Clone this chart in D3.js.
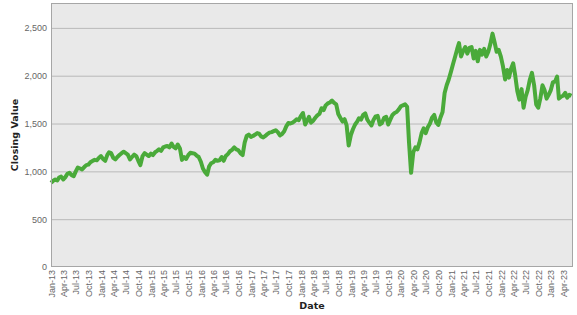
<!DOCTYPE html>
<html>
<head>
<meta charset="utf-8">
<script src="https://cdn.jsdelivr.net/npm/d3@7"></script>
<style>
  body { margin: 0; background: #fff; }
  svg { display: block; font-family: "DejaVu Sans", Verdana, sans-serif; }
</style>
</head>
<body>
<div id="chart"></div>
<script>
// half-monthly closes (1st and 16th of each month), Jan-13 .. Jun-23
var startMonth = "2013-01";
var closes = [
  // 2013
  880, 900, 915, 905, 935, 945, 915, 940, 975, 985, 960, 950,
  1000, 1040, 1030, 1020, 1045, 1065, 1070, 1095, 1110, 1120, 1115, 1140,
  // 2014
  1160, 1130, 1110, 1170, 1200, 1190, 1140, 1125, 1150, 1170, 1190, 1205,
  1190, 1175, 1125, 1150, 1175, 1160, 1110, 1065, 1160, 1190, 1175, 1160,
  // 2015
  1185, 1170, 1200, 1215, 1230, 1215, 1250, 1260, 1265, 1250, 1290, 1255,
  1240, 1280, 1240, 1120, 1150, 1130, 1170, 1195, 1190, 1185, 1165, 1150,
  // 2016
  1100, 1030, 990, 965, 1050, 1085, 1095, 1120, 1110, 1115, 1150, 1110,
  1160, 1180, 1210, 1225, 1250, 1230, 1220, 1190, 1170, 1300, 1370, 1385,
  // 2017
  1360, 1370, 1385, 1400, 1395, 1365, 1355, 1370, 1390, 1405, 1410, 1420,
  1430, 1410, 1375, 1390, 1420, 1470, 1505, 1500, 1510, 1525, 1545, 1535,
  // 2018
  1580, 1610, 1490, 1530, 1570, 1510, 1530, 1560, 1585, 1600, 1660, 1640,
  1690, 1710, 1720, 1740, 1715, 1700, 1600, 1560, 1520, 1545, 1480, 1270,
  // 2019
  1380, 1440, 1490, 1520, 1555, 1540, 1590, 1605, 1540, 1510, 1480, 1540,
  1575, 1580, 1490, 1505, 1560, 1570, 1490, 1540, 1590, 1610, 1620, 1645,
  // 2020
  1680, 1690, 1700, 1675, 1300, 985, 1200, 1250, 1230, 1300, 1400, 1450,
  1400, 1460, 1500, 1560, 1590, 1510, 1485, 1560, 1620, 1820, 1900, 1960,
  // 2021
  2040, 2120, 2200, 2280, 2340, 2200, 2260, 2300, 2230, 2290, 2300, 2180,
  2260, 2150, 2270, 2220, 2280, 2200, 2250, 2330, 2440, 2350, 2250, 2270,
  // 2022
  2200, 2100, 1960, 2060, 1980, 2070, 2130, 2000, 1840, 1750, 1860, 1665,
  1780, 1850, 1960, 2030, 1900, 1700, 1665, 1760, 1900, 1850, 1760, 1800,
  // 2023
  1850, 1930, 1940, 1990, 1760, 1780, 1790, 1820, 1770, 1800, 1790
];
var yTicks = [0, 500, 1000, 1500, 2000, 2500];
var xStart = "2013-01-01";
var xEnd = "2023-06-12";
var yMax = 2760;

var width = 577, height = 315;
var margin = {top: 3, right: 4, bottom: 48, left: 51};
var innerW = width - margin.left - margin.right;
var innerH = height - margin.top - margin.bottom;

var parse = d3.timeParse("%Y-%m-%d");
var m0 = d3.timeParse("%Y-%m")(startMonth);
var data = closes.map(function(v, i) {
  var d = d3.timeMonth.offset(m0, Math.floor(i / 2));
  if (i % 2 == 1) d = d3.timeDay.offset(d, 15);
  return {date: d, value: v};
});

var x = d3.scaleTime()
  .domain([parse(xStart), parse(xEnd)])
  .range([0, innerW]);
var y = d3.scaleLinear()
  .domain([0, yMax])
  .range([innerH, 0]);

var svg = d3.select("#chart").append("svg")
  .attr("width", width)
  .attr("height", height);

var g = svg.append("g")
  .attr("transform", `translate(${margin.left},${margin.top})`);

// plot background
g.append("rect")
  .attr("width", innerW)
  .attr("height", innerH)
  .attr("fill", "#e9e9e9");

// grid lines
g.append("g")
  .selectAll("line")
  .data(yTicks.slice(1))
  .join("line")
  .attr("x1", 0)
  .attr("x2", innerW)
  .attr("y1", d => y(d) + 0.5)
  .attr("y2", d => y(d) + 0.5)
  .attr("stroke", "#b9b9b9")
  .attr("stroke-width", 1);

// y axis
var yAxis = g.append("g")
  .call(d3.axisLeft(y).tickValues(yTicks).tickFormat(d3.format(",")).tickSize(0).tickPadding(4));
yAxis.select(".domain").remove();
yAxis.selectAll("text")
  .attr("fill", "#666")
  .style("font-size", "9px");

// x axis, quarterly ticks
var xAxis = g.append("g")
  .attr("transform", `translate(0,${innerH})`)
  .call(d3.axisBottom(x)
    .ticks(d3.timeMonth.every(3))
    .tickFormat(d3.timeFormat("%b-%y"))
    .tickSize(0)
    .tickPadding(2));
xAxis.select(".domain").remove();
xAxis.selectAll("text")
  .attr("fill", "#666")
  .style("font-size", "9px")
  .attr("text-anchor", "end")
  .attr("transform", "rotate(-90)")
  .attr("x", -3)
  .attr("y", 0)
  .attr("dy", "0.35em");

// the series
var line = d3.line()
  .x(d => x(d.date))
  .y(d => y(d.value));

g.append("path")
  .datum(data)
  .attr("fill", "none")
  .attr("stroke", "#4aaa3a")
  .attr("stroke-width", 4)
  .attr("stroke-linejoin", "round")
  .attr("d", line);

// plot border
g.append("rect")
  .attr("x", 0.5)
  .attr("y", 0.5)
  .attr("width", innerW - 1)
  .attr("height", innerH - 1)
  .attr("fill", "none")
  .attr("stroke", "#a6a6a6");

// axis titles
svg.append("text")
  .attr("x", margin.left + innerW / 2)
  .attr("y", 309)
  .attr("text-anchor", "middle")
  .style("font-size", "9.5px")
  .style("font-weight", "bold")
  .attr("fill", "#222")
  .text("Date");

svg.append("text")
  .attr("transform", `translate(18,${margin.top + innerH / 2}) rotate(-90)`)
  .attr("text-anchor", "middle")
  .style("font-size", "9.5px")
  .style("font-weight", "bold")
  .attr("fill", "#222")
  .text("Closing Value");
</script>
</body>
</html>
